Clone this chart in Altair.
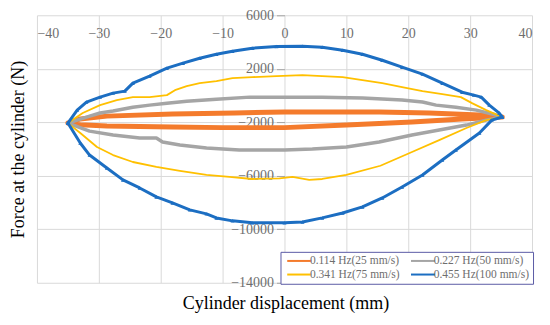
import altair as alt
import pandas as pd

series = ["0.114 Hz(25 mm/s)", "0.227 Hz(50 mm/s)", "0.341 Hz(75 mm/s)", "0.455 Hz(100 mm/s)"]
colors = ["#F47B2C", "#A5A5A5", "#FFC000", "#1C6EC2"]
widths = [5, 3.5, 1.8, 3]
# legend fills column by column: arrange so rows read 0.114 | 0.227 and 0.341 | 0.455
legend_order = [series[0], series[2], series[1], series[3]]
legend_colors = [colors[0], colors[2], colors[1], colors[3]]

# 0.114 Hz: upper branch (left->right), lower branch (right->left)
o_up_x = [-35, -33, -28.7, -18.1, -8, 0, 10, 15.3, 23.4, 31.5, 35.2]
o_up_y = [-2060, -1750, -1540, -1390, -1300, -1240, -1240, -1240, -1310, -1460, -1610]
o_lo_x = [35.2, 28.7, 20.6, 10, 0, -10, -18.1, -28.7, -33, -35]
o_lo_y = [-1610, -1760, -1980, -2210, -2400, -2400, -2360, -2280, -2180, -2060]

# 0.227 Hz
g_up_x = [-35, -32, -29.8, -27.7, -24.5, -21.8, -19, -15.8, -11, -5.6, 0, 6, 12.6, 19, 22.3, 24.5, 27.7, 31, 34.2, 35.2]
g_up_y = [-2060, -1610, -1310, -1160, -870, -717, -570, -420, -270, -120, -120, -120, -190, -343, -490, -717, -870, -1090, -1460, -1610]
g_lo_x = [35.2, 32.6, 29.4, 25, 20.6, 15.3, 10, 4.5, 0, -7.3, -12.6, -16.9, -19.7, -20.7, -23.4, -27.7, -31.5, -35]
g_lo_y = [-1610, -1840, -2210, -2580, -2950, -3480, -3850, -4000, -4075, -4075, -3930, -3700, -3480, -3180, -3180, -2950, -2660, -2060]

# 0.341 Hz
y_up_x = [-35, -32.6, -29.8, -27.1, -24.5, -21.8, -19, -17.7, -15.8, -13.7, -11, -8.4, -5.2, -1.3, 2.9, 6.1, 9.4, 12.6, 15.8, 19, 22.3, 25.5, 28.5, 30.3, 32.6, 35.2]
y_up_y = [-2060, -1310, -717, -343, -120, -120, 30, 400, 700, 925, 1075, 1300, 1375, 1450, 1520, 1450, 1375, 1150, 925, 630, 330, 100, -120, -570, -1090, -1610]
y_lo_x = [35.2, 32.6, 29.4, 25, 20.6, 15.5, 10, 6.1, 4, 1.3, -0.8, -5.2, -8.9, -12.6, -16.9, -20.7, -24.5, -27.7, -30.3, -33, -35]
y_lo_y = [-1610, -1840, -2430, -3330, -4220, -5250, -5940, -6240, -6310, -6090, -6200, -6240, -6090, -5940, -5640, -5340, -4970, -4450, -3850, -2800, -2060]

# 0.455 Hz
b_up_x = [-35, -33.5, -32, -29.8, -27.7, -25.8, -24.5, -21.8, -19, -16.4, -13.7, -11, -8.4, -5.2, -1.3, 2.9, 6.1, 9.4, 12.6, 15.8, 19, 22.3, 25.5, 28.7, 30.6, 31.8, 33.1, 34.7, 35.2]
b_up_y = [-2060, -1090, -490, -120, 180, 330, 925, 1450, 2045, 2420, 2790, 3090, 3310, 3540, 3670, 3690, 3610, 3390, 3090, 2640, 2120, 1600, 925, 250, 30, -120, -717, -1310, -1610]
b_lo_x = [35.2, 33.5, 31.5, 27.7, 25.5, 22.3, 19, 15.8, 12.6, 9.4, 6.1, 2.9, 0, -5.2, -8.4, -11, -12.6, -15.3, -18.1, -20.7, -23.4, -26.1, -28.7, -31.5, -33, -35]
b_lo_y = [-1610, -1840, -2800, -4075, -4820, -5940, -6840, -7660, -8330, -8780, -9150, -9450, -9520, -9520, -9370, -9150, -8850, -8550, -8030, -7580, -6910, -6310, -5420, -4450, -3550, -2060]

x_ticks = [-40, -30, -20, -10, 0, 10, 20, 30, 40]
y_ticks = [6000, 2000, -2000, -6000, -10000, -14000]

rows = []
for k, (name, xs, ys) in enumerate([
    (series[0], o_up_x + o_lo_x, o_up_y + o_lo_y),
    (series[1], g_up_x + g_lo_x, g_up_y + g_lo_y),
    (series[2], y_up_x + y_lo_x, y_up_y + y_lo_y),
    (series[3], b_up_x + b_lo_x, b_up_y + b_lo_y),
]):
    for i, (xv, yv) in enumerate(zip(xs, ys)):
        rows.append({"series": name, "k": k, "x": xv, "y": yv, "i": i})
df = pd.DataFrame(rows)

FONT = "Liberation Serif"
GREY = "#6E6E6E"
xsc = alt.Scale(domain=[-40, 40], nice=False, zero=False)
ysc = alt.Scale(domain=[-14000, 6000], nice=False, zero=False)

x_enc = alt.X("x:Q", scale=xsc, axis=alt.Axis(
    orient="top", values=x_ticks, ticks=False, tickSize=0, domain=False,
    labelPadding=-18, labelBaseline="middle", labelFontSize=14, labelFont=FONT,
    labelColor=GREY, gridColor="#D9D9D9",
    title="Cylinder displacement (mm)", titleFont=FONT, titleFontSize=18,
    titleFontWeight="normal", titleColor="#000000", titleX=249, titleY=289,
    titleBaseline="middle", titleAlign="center"))
y_enc = alt.Y("y:Q", scale=ysc, axis=alt.Axis(
    orient="left", offset=-248, values=y_ticks, format="d", tickSize=8,
    tickColor="#A6A6A6", labelPadding=3, domain=False, labelFontSize=14,
    labelFont=FONT, labelColor=GREY, gridColor="#D9D9D9",
    labelBaseline="middle",
    title="Force at the cylinder (N)", titleFont=FONT, titleFontSize=18,
    titleFontWeight="normal", titleColor="#000000", titleX=-266, titleY=134,
    titleAngle=270, titleBaseline="middle", titleAlign="center"))

color_enc = alt.Color("series:N", sort=legend_order,
                      scale=alt.Scale(domain=legend_order, range=legend_colors),
                      legend=alt.Legend(
                          orient="bottom-right", offset=-1, columns=2, title=None,
                          labelFont=FONT, labelFontSize=11.5, labelColor=GREY,
                          labelLimit=200,
                          symbolType="M-6,0L6,0", symbolSize=16, symbolStrokeWidth=2,
                          symbolOffset=10, labelOffset=5, columnPadding=6, rowPadding=1,
                          padding=3, strokeColor="#5B5BA6", fillColor="#FFFFFF"))

layers = []
for name, w in zip(series, widths):
    layers.append(
        alt.Chart(df).transform_filter(alt.datum.series == name)
        .mark_line(strokeJoin="round", strokeCap="round", strokeWidth=w)
        .encode(x=x_enc, y=y_enc, color=color_enc, order="i:Q")
    )

markers = alt.Chart(df).transform_filter(
    alt.datum.series == series[3]
).mark_point(shape="triangle-up", filled=True, size=16, color=colors[3], opacity=1).encode(
    x=alt.X("x:Q", scale=xsc), y=alt.Y("y:Q", scale=ysc)
)

chart = alt.layer(*layers, markers).properties(
    width=496, height=268,
    autosize=alt.AutoSizeParams(type="none"),
    padding={"left": 29, "top": 7, "right": 10, "bottom": 34},
).configure_view(stroke=None).configure_axis(
    labelFont=FONT, titleFont=FONT
).configure_legend(labelFont=FONT)

chart.save("out.html", embed_options={"renderer": "svg", "actions": False})
